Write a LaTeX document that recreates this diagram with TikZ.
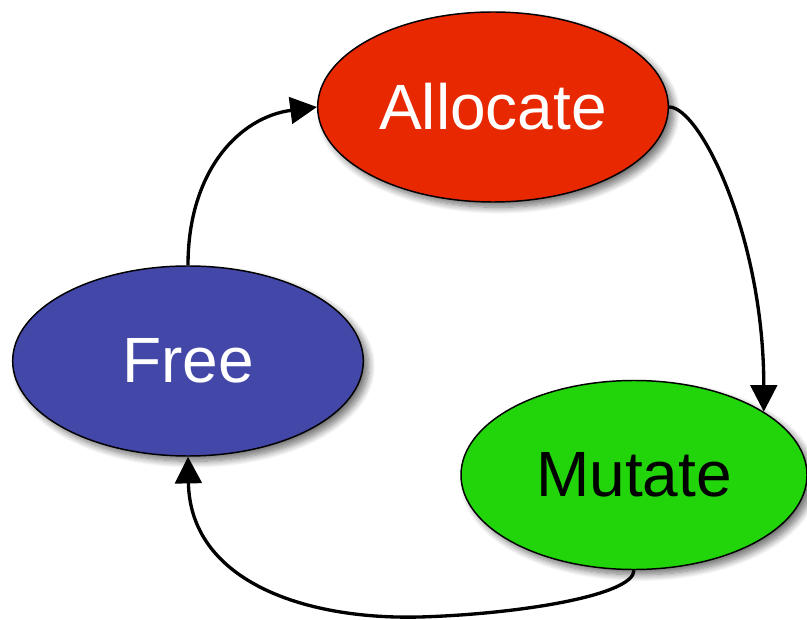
\documentclass[tikz,border=0pt]{standalone}
\usepackage{fontspec}
\setmainfont{Liberation Sans}
\usetikzlibrary{shapes.geometric,arrows.meta,calc,shadows.blur}

\definecolor{allocred}{RGB}{232,40,0}
\definecolor{freeblue}{RGB}{67,72,168}
\definecolor{mutgreen}{RGB}{34,212,10}

\tikzset{
  state/.style={ellipse, draw=black, line width=1.1pt, inner sep=0pt,
    minimum width=263pt, minimum height=142.5pt,
    font=\fontsize{48}{50}\selectfont,
    blur shadow={shadow xshift=4pt, shadow yshift=-4pt, shadow blur steps=10, shadow blur radius=5pt, shadow opacity=55}},
  flow/.style={line width=2.5pt, -{Triangle[length=20pt,width=20pt]}},
}

\begin{document}
\begin{tikzpicture}[x=0.75pt, y=-0.75pt]
  \useasboundingbox (0,0) rectangle (807,620);

  % the three states of the cycle
  \node[state, fill=allocred, text=white] (alloc) at (493,107) {Allocate};
  \node[state, fill=freeblue, text=white] (free) at (188,361) {Free};
  \node[state, fill=mutgreen, text=black, minimum width=259.5pt, minimum height=141.75pt] (mut) at (634,475) {Mutate};

  % lowest point of the return arc
  \coordinate (low) at (420,617);

  % Free -> Allocate
  \draw[flow] (free.north) .. controls ($(free.north)+(0,-95)$) and ($(alloc.west)+(-77,10)$) .. (alloc.west);
  % Allocate -> Mutate
  \draw[flow] (alloc.east) .. controls ($(alloc.east)+(31,0)$) and ($(mut.26)+(0,-175)$) .. (mut.26);
  % Mutate -> Free
  \draw[flow] (mut.south) .. controls ($(mut.south)+(0,25)$) and ($(low)+(100,-3)$) .. (low)
              .. controls ($(low)+(-120,3)$) and ($(free.south)+(2,122)$) .. (free.south);
\end{tikzpicture}
\end{document}
